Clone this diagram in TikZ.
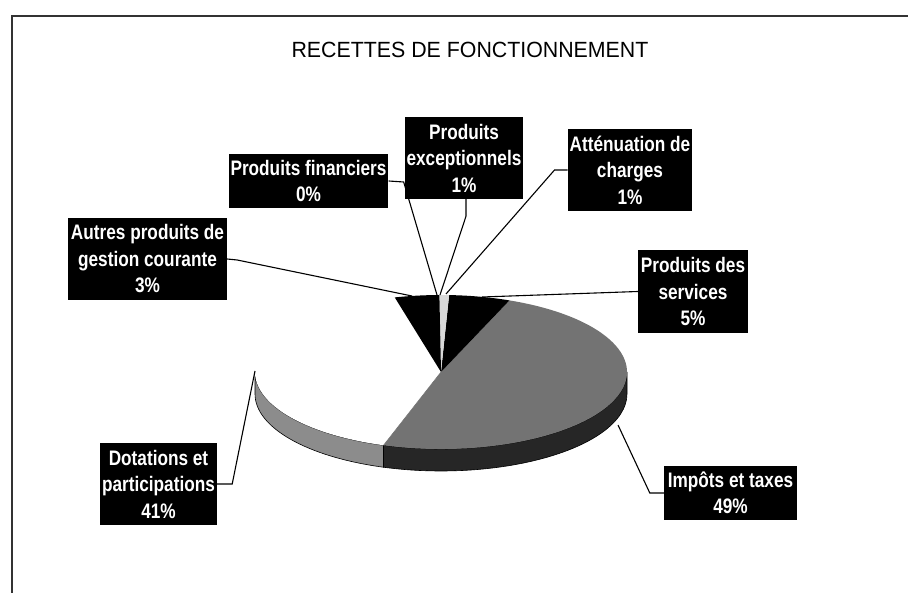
\documentclass[tikz,border=0pt]{standalone}
\usepackage{fontspec}
\setmainfont{Liberation Sans}
\newfontfamily\labelfont{Liberation Sans}[FakeStretch=0.82]
\newfontfamily\titlefont{Liberation Sans}[FakeStretch=0.97]
\begin{document}
\begin{tikzpicture}[x=1pt,y=1pt,
  lab/.style={fill=black,text=white,inner sep=2pt,align=center,
    font=\labelfont\bfseries\fontsize{21}{26.5}\selectfont},
  leader/.style={draw=black,line width=1.1pt},
  sidewhite/.style={fill=black!45},
  sidegrey/.style={fill=black!85},
  topgrey/.style={fill=black!55},
  topdark/.style={fill=black},
  topwhite/.style={fill=white},
  sliver/.style={fill=black!15}]
\useasboundingbox (0,0) rectangle (908,-593);
% frame
\draw[line width=1.6pt,black!80] (12,-593) -- (12,-16) -- (908,-16);
% title
\node[font=\titlefont\fontsize{22}{26}\selectfont] (title) at (470,-50) {RECETTES DE FONCTIONNEMENT};

% pie
\begin{scope}[shift={(441,-372)}]
  % sides
  \filldraw[sidewhite,draw=black,line width=0.6pt] (180:186 and 77)
     arc[start angle=180,end angle=252,x radius=186,y radius=77]
     -- ++(0,-22)
     arc[start angle=252,end angle=180,x radius=186,y radius=77] -- cycle;
  \filldraw[sidegrey,draw=black,line width=0.6pt] (252:186 and 77)
     arc[start angle=252,end angle=360,x radius=186,y radius=77]
     -- ++(0,-22)
     arc[start angle=360,end angle=252,x radius=186,y radius=77] -- cycle;
  % top wedges
  \fill[topgrey] (0,0) -- (-108:186 and 77)
     arc[start angle=-108,end angle=68.4,x radius=186,y radius=77] -- cycle;
  \fill[topwhite] (0,0) -- (104.4:186 and 77)
     arc[start angle=104.4,end angle=252,x radius=186,y radius=77] -- cycle;
  \fill[topdark] (0,0) -- (68.4:186 and 77)
     arc[start angle=68.4,end angle=87.5,x radius=186,y radius=77] -- cycle;
  \fill[sliver] (0,0) -- (87.5:186 and 77)
     arc[start angle=87.5,end angle=90.5,x radius=186,y radius=77] -- cycle;
  \fill[topdark] (0,0) -- (90.5:186 and 77)
     arc[start angle=90.5,end angle=104.4,x radius=186,y radius=77] -- cycle;
  \draw[black!60,line width=0.5pt] (0,0) -- (-108:186 and 77);
\end{scope}

% pie anchor points for leaders
\coordinate (pfin) at (437,-295);
\coordinate (pexc) at (440,-295);
\coordinate (patt) at (446,-294);
\coordinate (pserv) at (482,-297);
\coordinate (paut) at (412,-296);
\coordinate (pdot) at (255,-371);
\coordinate (pimp) at (618,-425);

% labels
\node[lab,minimum width=159,minimum height=54] (fin) at (308.5,-181) {Produits financiers\\0\%};
\node[lab,minimum width=118,minimum height=82] (exc) at (464,-158) {Produits\\exceptionnels\\1\%};
\node[lab,minimum width=124,minimum height=82] (att) at (630,-170) {Atténuation de\\charges\\1\%};
\node[lab,minimum width=110,minimum height=83] (serv) at (693,-291.5) {Produits des\\services\\5\%};
\node[lab,minimum width=159,minimum height=82] (aut) at (147.5,-259) {Autres produits de\\gestion courante\\3\%};
\node[lab,minimum width=117,minimum height=82] (dot) at (158.5,-484) {Dotations et\\participations\\41\%};
\node[lab,minimum width=133,minimum height=54] (imp) at (730.5,-493) {Impôts et taxes\\49\%};

% leaders
\draw[leader] (fin.east) -- ++(15,-1) -- (pfin);
\draw[leader] (exc.south) ++(2,0) -- ++(0,-17) -- (pexc);
\draw[leader] (att.west) -- ++(-13,0) -- (patt);
\draw[leader] (serv.west) -- (pserv);
\draw[leader] (aut.east) -- ++(10,-1) -- (paut);
\draw[leader] (dot.east) -- ++(15,0) -- (pdot);
\draw[leader] (imp.west) -- ++(-14,0) -- (pimp);
\end{tikzpicture}
\end{document}
